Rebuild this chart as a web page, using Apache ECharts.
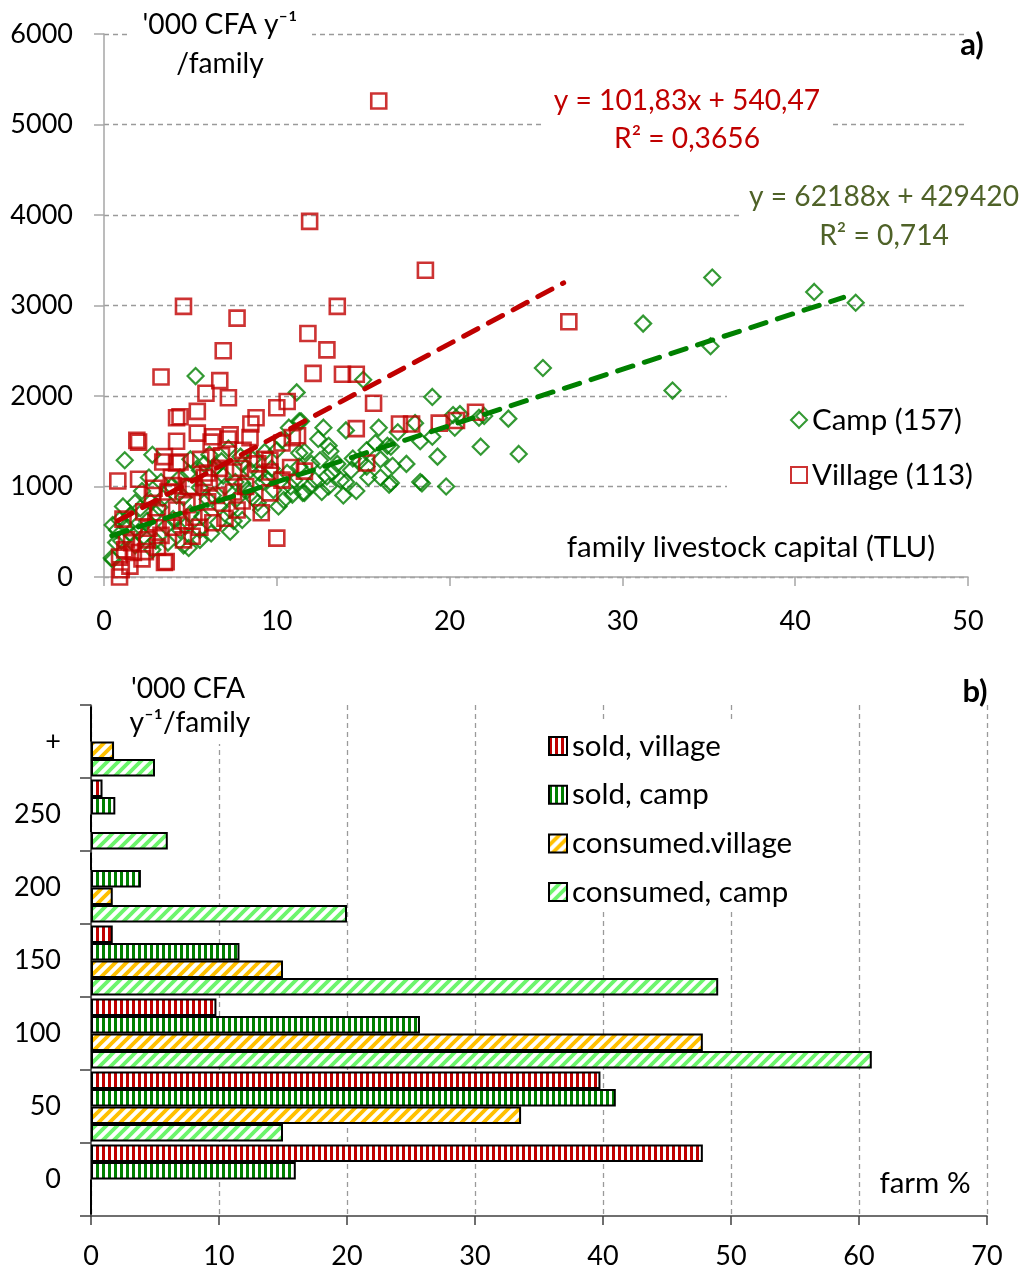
<!DOCTYPE html>
<html><head><meta charset="utf-8">
<script src="https://cdn.jsdelivr.net/npm/echarts@6/dist/echarts.min.js"></script>
<style>html,body{margin:0;padding:0;background:#fff}#c{width:1023px;height:1272px}</style>
</head><body><div id="c"></div>
<script>
// ---- panel a) family livestock capital (TLU) vs '000 CFA / family
const campPoints = [
[35.2,3310],[41.1,3150],[43.5,3030],[31.2,2800],[35.1,2550],[25.4,2310],[32.9,2060],[19.0,1990],[23.4,1750],[21.7,1760],
[20.3,1650],[18.3,1500],[16.6,1440],[19.3,1330],[21.8,1440],[24.0,1360],[16.7,1230],[16.6,1040],[18.3,1050],[19.8,1000],
[11.15,2040],[15.0,2180],[11.4,1720],[12.4,1525],[13.1,1390],[14.0,1620],[15.9,1650],[15.7,1480],[16.4,1450],[20.2,1790],
[11.3,1370],[14.4,1310],[15.2,1220],[14.3,1180],[16.5,1020],[18.4,1035],[13.85,900],[12.6,940],[11.6,930],[13.7,1070],
[12.9,1110],[12.2,1070],[11.9,1000],[13.2,1160],[10.9,910],[15.2,1400],[11.3,1720],[11.6,1385],[10.3,1510],[11.3,1220],
[10.8,1000],[11.5,930],[10.4,850],[9.4,1090],[9.1,740],[8.6,880],[8.0,1035],[7.3,740],[7.3,500],[6.7,780],
[6.5,1220],[6.1,1350],[7.9,1330],[8.45,1180],[10.0,1400],[6.3,900],[5.55,410],[5.7,670],[8.0,630],[1.2,1290],
[2.8,1350],[3.3,1050],[2.1,760],[0.9,630],[0.5,575],[0.45,210],[1.5,670],[2.3,450],[2.8,300],[3.7,380],
[4.6,350],[4.9,320],[5.55,520],[4.4,520],[3.4,870],[4.6,880],[5.55,990],[4.4,1100],[5.55,1180],[2.7,830],
[0.75,520],[1.5,490],[5.3,2220],[0.5,190],[12.5,1290],[9.8,960],[9.0,1150],[8.3,960],[7.6,1050],[7.0,1000],
[6.6,600],[6.0,860],[5.0,700],[4.0,640],[3.6,560],[3.0,700],[2.5,620],[2.0,500],[1.8,350],[1.0,400],
[1.3,560],[2.2,950],[3.9,1000],[4.9,1150],[5.8,1250],[6.9,1120],[7.7,870],[8.9,820],[9.7,1200],[10.6,1150],
[12.0,1250],[13.0,1000],[14.0,1050],[14.8,1280],[16.0,1100],[17.5,1250],[12.7,1650],[9.3,1380],[10.7,1650],[8.0,1250],
[7.2,1420],[6.8,1280],[5.0,1300],[4.2,900],[3.2,770],[2.6,1100],[1.8,820],[1.1,780],[0.7,380],[3.0,400],
[4.7,560],[6.2,480],[7.5,620],[8.6,1300],[9.2,1050],[10.1,780],[11.0,1070],[13.5,1250],[17.0,1600],[18.0,1700],
[22.0,1780],[20.6,1800],[19.0,1550],[16.0,1300],[15.3,1100],[14.6,950],[13.0,1450]
];
const villagePoints = [
[15.9,5260],[11.9,3930],[18.6,3390],[4.6,2990],[7.7,2860],[13.5,2990],[26.9,2820],[11.8,2690],[12.9,2510],[6.9,2500],
[3.3,2210],[12.1,2250],[13.8,2240],[14.6,2240],[6.7,2170],[5.9,2030],[7.2,1980],[10.6,1940],[15.6,1920],[4.2,1760],
[4.4,1770],[5.4,1830],[10.0,1870],[8.8,1760],[8.5,1690],[14.6,1640],[17.1,1690],[17.8,1690],[19.4,1700],[20.4,1730],
[21.5,1820],[1.9,1510],[4.2,1500],[5.4,1590],[6.3,1550],[7.3,1570],[10.9,1540],[11.2,1560],[3.5,1330],[4.2,1260],
[0.8,1060],[2.0,1080],[15.2,1260],[10.0,430],[3.5,160],[0.9,0],[11.6,1170],[7.2,1525],[6.2,1490],[8.45,1540],
[8.05,1400],[10.3,1480],[9.6,1290],[6.7,1200],[7.5,1160],[9.6,1160],[10.3,1070],[6.1,1040],[7.5,940],[9.6,930],
[6.0,830],[7.7,740],[9.1,710],[6.3,600],[2.0,1490],[3.4,1270],[4.4,1270],[3.7,940],[5.15,990],[2.3,720],
[3.1,710],[4.2,740],[5.2,660],[1.3,410],[2.5,410],[3.1,330],[4.0,550],[5.55,550],[0.9,220],[3.6,170],
[1.0,80],[1.7,270],[4.6,410],[4.9,1000],[5.8,1100],[6.5,900],[8.2,1000],[8.9,1250],[2.8,900],[3.0,600],
[4.8,800],[5.6,1300],[6.8,1340],[8.0,840],[1.2,300],[2.2,200],[2.6,540],[3.9,1100],[4.5,620],[1.5,120],
[5.1,450],[7.0,650],[9.3,1300],[6.0,1150],[2.9,980],[1.1,640],[3.3,460],[10.8,1210],[4.0,1010],[5.0,1000],
[7.9,1200],[1.6,380],[2.4,280]
];
// trendline end points as drawn (y = 101,83x + 540,47 and y = 62188x + 429420)
const villageTrend = [[0.8, 622], [26.6, 3250]];
const campTrend = [[0.45, 457], [42.8, 3090]];

// ---- panel b) distribution of farms (%) by income class
const barCategories = ['0','50','100','150','200','250','+'];
const soldVillage     = [47.8, 39.8,  9.8,  1.7,  0,   0.9, 0];
const soldCamp        = [16.0, 41.0, 25.7, 11.6,  3.9, 1.9, 0];
const consumedVillage = [0,    33.6, 47.8, 15.0,  1.7, 0,   1.8];
const consumedCamp    = [0,    15.0, 61.0, 49.0, 20.0, 6.0, 5.0];

const FONT = 'Lato';
const FS = 27;     // tick labels
const FT = 29.5;   // annotations / legends
const FE = 28.2;   // equations / axis titles

function stripes(color, diag) {
  const c = document.createElement('canvas');
  const g = c.getContext('2d');
  if (!diag) {
    c.width = 6; c.height = 6;
    g.fillStyle = '#fff'; g.fillRect(0, 0, 6, 6);
    g.fillStyle = color; g.fillRect(0, 0, 3, 6);
  } else {
    const n = 11;
    c.width = n; c.height = n;
    g.fillStyle = '#fff'; g.fillRect(0, 0, n, n);
    g.strokeStyle = color; g.lineWidth = 3.8;
    g.beginPath();
    g.moveTo(-n / 2, n / 2); g.lineTo(n / 2, -n / 2);
    g.moveTo(0, n); g.lineTo(n, 0);
    g.moveTo(n / 2, n * 1.5); g.lineTo(n * 1.5, n / 2);
    g.stroke();
  }
  return { image: c, repeat: 'repeat' };
}

const RED = '#C00000', GREEN = '#008000';
const chart = echarts.init(document.getElementById('c'), null, { renderer: 'canvas' });

function txt(x, y, s, opts) {
  return Object.assign({
    type: 'text', x: x, y: y, z: 50,
    style: Object.assign({
      text: s, font: FT + 'px ' + FONT, fill: '#000',
      align: 'center', verticalAlign: 'middle'
    }, (opts && opts.style) || {})
  }, (opts && opts.el) || {});
}
function whiteRect(x, y, w, h) {
  return { type: 'rect', z: 3, shape: { x: x, y: y, width: w, height: h }, style: { fill: '#fff' } };
}
const plain = v => String(v);
const eqFont = FE + 'px ' + FONT;

const option = {
  backgroundColor: '#fff',
  animation: false,
  textStyle: { fontFamily: FONT },
  grid: [
    { left: 104, top: 34, width: 864, height: 543 },
    { left: 91, top: 705, width: 896, height: 511 }
  ],
  xAxis: [
    { gridIndex: 0, type: 'value', min: 0, max: 50, interval: 10,
      axisLine: { show: true, lineStyle: { color: '#A6A6A6', width: 1.5 } },
      axisTick: { show: true, length: 9, lineStyle: { color: '#A6A6A6', width: 1.5 } },
      axisLabel: { fontSize: FS, color: '#000', fontFamily: FONT, margin: 31, formatter: plain },
      splitLine: { show: false } },
    { gridIndex: 1, type: 'value', min: 0, max: 70, interval: 10,
      axisLine: { show: true, lineStyle: { color: '#404040', width: 1.5 } },
      axisTick: { show: true, length: 9, lineStyle: { color: '#404040', width: 1.5 } },
      axisLabel: { fontSize: FS, color: '#000', fontFamily: FONT, margin: 27, formatter: plain },
      splitLine: { show: true, lineStyle: { color: '#9A9A9A', type: [5, 4], width: 1.3 } } }
  ],
  yAxis: [
    { gridIndex: 0, type: 'value', min: 0, max: 6000, interval: 1000,
      axisLine: { show: true, lineStyle: { color: '#A6A6A6', width: 1.5 } },
      axisTick: { show: true, length: 10, lineStyle: { color: '#A6A6A6', width: 1.5 } },
      axisLabel: { fontSize: FS, color: '#000', fontFamily: FONT, margin: 31, formatter: plain },
      splitLine: { show: true, lineStyle: { color: '#9A9A9A', type: [5, 4], width: 1.3 } } },
    { gridIndex: 1, type: 'category', data: barCategories,
      axisLine: { show: true, lineStyle: { color: '#404040', width: 1.5 } },
      axisTick: { show: true, length: 11, lineStyle: { color: '#404040', width: 1.5 } },
      axisLabel: { fontSize: FS, color: '#000', fontFamily: FONT, margin: 30 },
      splitLine: { show: false } }
  ],
  legend: [
    { orient: 'vertical', left: 785, top: 400, z: 10,
      data: ['Camp (157)', 'Village (113)'],
      itemWidth: 16, itemHeight: 16, itemGap: 25,
      textStyle: { fontSize: FT, fontFamily: FONT, color: '#000', lineHeight: 30 } },
    { orient: 'vertical', left: 543, top: 726, z: 10, icon: 'rect',
      data: ['sold, village', 'sold, camp', 'consumed.village', 'consumed, camp'],
      itemWidth: 18, itemHeight: 18, itemGap: 18.7,
      textStyle: { fontSize: FT, fontFamily: FONT, color: '#000', lineHeight: 30 } }
  ],
  series: [
    { name: 'Camp (157)', type: 'scatter', xAxisIndex: 0, yAxisIndex: 0, data: campPoints,
      symbol: 'diamond', symbolSize: 16, z: 2,
      itemStyle: { color: 'rgba(255,255,255,0)', borderColor: GREEN, borderWidth: 2.2 } },
    { name: 'Village (113)', type: 'scatter', xAxisIndex: 0, yAxisIndex: 0, data: villagePoints,
      symbol: 'rect', symbolSize: 15, z: 3,
      itemStyle: { color: 'rgba(255,255,255,0)', borderColor: RED, borderWidth: 2.6 } },
    { name: 'villageTrend', type: 'line', xAxisIndex: 0, yAxisIndex: 0, data: villageTrend,
      showSymbol: false, silent: true, z: 5,
      lineStyle: { color: RED, width: 5, type: [16, 12], cap: 'round' } },
    { name: 'campTrend', type: 'line', xAxisIndex: 0, yAxisIndex: 0, data: campTrend,
      showSymbol: false, silent: true, z: 5,
      lineStyle: { color: GREEN, width: 5, type: [16, 12], cap: 'round' } },
    { name: 'sold, village', type: 'bar', xAxisIndex: 1, yAxisIndex: 1, data: soldVillage,
      barGap: '0%', barCategoryGap: '4%',
      itemStyle: { color: stripes(RED, false), borderColor: '#000', borderWidth: 2 } },
    { name: 'sold, camp', type: 'bar', xAxisIndex: 1, yAxisIndex: 1, data: soldCamp,
      barGap: '0%', barCategoryGap: '4%',
      itemStyle: { color: stripes(GREEN, false), borderColor: '#000', borderWidth: 2 } },
    { name: 'consumed.village', type: 'bar', xAxisIndex: 1, yAxisIndex: 1, data: consumedVillage,
      barGap: '0%', barCategoryGap: '4%',
      itemStyle: { color: stripes('#FFC000', true), borderColor: '#000', borderWidth: 2 } },
    { name: 'consumed, camp', type: 'bar', xAxisIndex: 1, yAxisIndex: 1, data: consumedCamp,
      barGap: '0%', barCategoryGap: '4%',
      itemStyle: { color: stripes('#6CF56C', true), borderColor: '#000', borderWidth: 2 } }
  ],
  graphic: [
    // masks behind labels (gridlines are interrupted there)
    whiteRect(128, 8, 184, 78),
    whiteRect(545, 84, 285, 74),
    whiteRect(743, 180, 278, 75),
    whiteRect(727, 385, 245, 115),
    whiteRect(128, 670, 124, 74),
    whiteRect(532, 722, 272, 188),
    txt(220, 25, "'000 CFA y\u207B\u00B9", { style: { font: eqFont } }),
    txt(220, 64, '/family', { style: { font: eqFont } }),
    txt(972, 45, 'a)', { style: { font: 'bold 31px ' + FONT } }),
    txt(687, 101, 'y = 101,83x + 540,47', { style: { fill: RED, font: eqFont } }),
    txt(687, 139, 'R\u00B2 = 0,3656', { style: { fill: RED, font: eqFont } }),
    txt(884, 197, 'y = 62188x + 429420', { style: { fill: '#4F6228', font: eqFont } }),
    txt(884, 236, 'R\u00B2 = 0,714', { style: { fill: '#4F6228', font: eqFont } }),
    txt(751, 547, 'family livestock capital (TLU)'),
    txt(188, 689, "'000 CFA", { style: { font: eqFont } }),
    txt(190, 723, 'y\u207B\u00B9/family', { style: { font: eqFont } }),
    txt(975, 692, 'b)', { style: { font: 'bold 31px ' + FONT } }),
    txt(925, 1183, 'farm %')
  ]
};
chart.setOption(option);
</script>
</body></html>
